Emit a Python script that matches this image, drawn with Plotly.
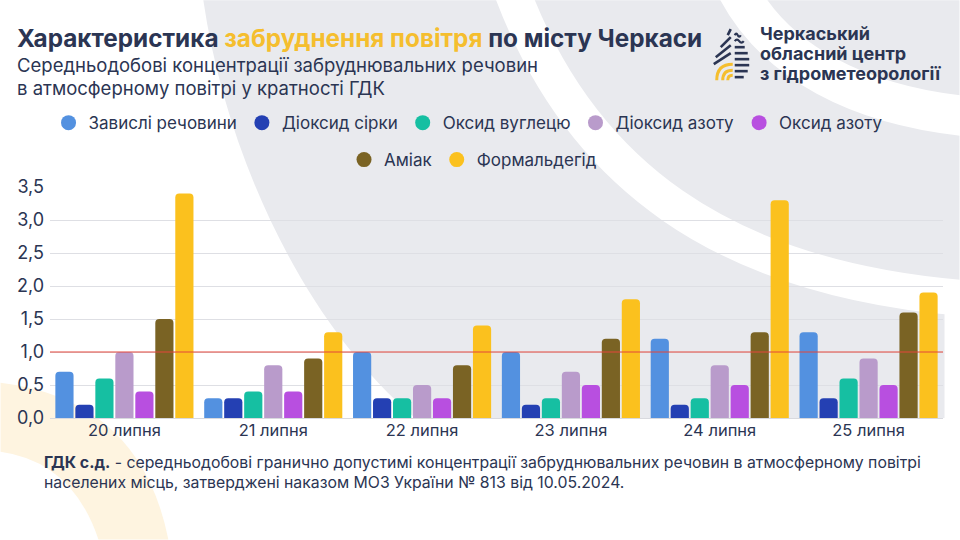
import plotly.graph_objects as go

# ---------------- data ----------------
dates = ["20 липня", "21 липня", "22 липня", "23 липня", "24 липня", "25 липня"]
series_names = ["Завислі речовини", "Діоксид сірки", "Оксид вуглецю", "Діоксид азоту",
                "Оксид азоту", "Аміак", "Формальдегід"]
suspended = [0.7, 0.3, 1.0, 1.0, 1.2, 1.3]
so2 = [0.2, 0.3, 0.3, 0.2, 0.2, 0.3]
co = [0.6, 0.4, 0.3, 0.3, 0.3, 0.6]
no2 = [1.0, 0.8, 0.5, 0.7, 0.8, 0.9]
no = [0.4, 0.4, 0.3, 0.5, 0.5, 0.5]
ammonia = [1.5, 0.9, 0.8, 1.2, 1.3, 1.6]
formaldehyde = [3.4, 1.3, 1.4, 1.8, 3.3, 1.9]
series_values = [suspended, so2, co, no2, no, ammonia, formaldehyde]
y_tick_vals = [0, 0.5, 1.0, 1.5, 2.0, 2.5, 3.0, 3.5]
y_tick_text = ["0,0", "0,5", "1,0", "1,5", "2,0", "2,5", "3,0", "3,5"]
gdk_level = 1.0

# ---------------- style ----------------
colors = ["#5391E0", "#2440B3", "#16BFA2", "#B99BCB", "#B84FE0", "#7A6324", "#FBC11E"]
NAVY = "#2B3553"
YELLOW = "#F5BE2E"
FONT = "Inter"
W, H = 960, 540
ML, MR, MT, MB = 49.5, 16.5, 187, 121.7
PW = W - ML - MR
PH = H - MT - MB


def px(x):
    return (x - ML) / PW


def py(y):
    return (H - MB - y) / PH


def path(cmds):
    out = []
    for c in cmds:
        if isinstance(c, str):
            out.append(c)
        else:
            out.append(f"{px(c[0]):.5f},{py(c[1]):.5f}")
    return " ".join(out)


fig = go.Figure()

for name, vals, col in zip(series_names, series_values, colors):
    fig.add_trace(go.Bar(x=dates, y=vals, name=name, marker=dict(color=col, line=dict(width=0)),
                         showlegend=False, hoverinfo="y+name"))

for i, (name, col) in enumerate(zip(series_names, colors)):
    fig.add_trace(go.Scatter(x=[None], y=[None], mode="markers", name=name,
                             marker=dict(color=col, size=15, symbol="circle"),
                             legend="legend" if i < 5 else "legend2"))

shapes = []
# grey background area
shapes.append(dict(type="path", xref="paper", yref="paper", layer="below",
                   path=path(["M", (203, 0), "C", (225, 150), (300, 320), (415, 418.3),
                              "L", (945, 418.3), "L", (945, 300), "L", (960, 300), "L", (960, 0), "Z"]),
                   fillcolor="#E9EAEE", line=dict(width=0)))
# white arc bands
shapes.append(dict(type="path", xref="paper", yref="paper", layer="below",
                   path=path(["M", (508, -20), "C", (575, 170), (720, 285), (990, 300)]),
                   line=dict(color="white", width=36)))
shapes.append(dict(type="path", xref="paper", yref="paper", layer="below",
                   path=path(["M", (733, -20), "C", (770, 60), (860, 110), (990, 118)]),
                   line=dict(color="white", width=40)))
# cream arc bottom-left
shapes.append(dict(type="path", xref="paper", yref="paper", layer="below",
                   path=path(["M", (0, 383), "Q", (140, 400), (168, 540), "L", (98, 540),
                              "Q", (72, 462), (0, 452), "Z"]),
                   fillcolor="#FEF4E0", line=dict(width=0)))

# logo (drop emblem): right half horizontal stripes following the drop outline
half_width = {47: 12, 53: 15, 59: 16.5, 65: 16.5, 71: 15, 77: 11}
for yy, hw in half_width.items():
    shapes.append(dict(type="line", xref="paper", yref="paper", x0=px(735), x1=px(733 + hw),
                       y0=py(yy), y1=py(yy), line=dict(color=NAVY, width=2.6)))
# wavy lines top right
for yy, hw in [(35, 6), (41, 9)]:
    shapes.append(dict(type="path", xref="paper", yref="paper",
                       path=path(["M", (735, yy), "Q", (735 + hw / 4, yy - 3), (735 + hw / 2, yy),
                                  "Q", (735 + 3 * hw / 4, yy + 3), (735 + hw, yy)]),
                       line=dict(color=NAVY, width=2.2)))
# left upper diagonal stripes
for (x0, y0, x1, y1) in [(728, 35, 731, 29), (721, 47, 731, 37), (716, 57, 731, 45), (714, 64, 731, 53)]:
    shapes.append(dict(type="line", xref="paper", yref="paper", x0=px(x0), y0=py(y0), x1=px(x1), y1=py(y1),
                       line=dict(color=NAVY, width=2.6)))
# yellow arcs bottom-left
for r in [5, 10, 16]:
    shapes.append(dict(type="path", xref="paper", yref="paper",
                       path=path(["M", (733 - r, 80), "Q", (733 - r, 80 - r), (733, 80 - r)]),
                       line=dict(color=YELLOW, width=3)))

# GDK threshold line
shapes.append(dict(type="line", xref="paper", yref="y", x0=0, x1=1, y0=gdk_level, y1=gdk_level,
                   line=dict(color="#E4473B", width=1.2), layer="above"))

annotations = []


def add_text(text, x, y, size, color=NAVY, xanchor="left"):
    annotations.append(dict(text=text, x=px(x), y=py(y), xref="paper", yref="paper",
                            xanchor=xanchor, yanchor="middle", showarrow=False,
                            font=dict(family=FONT, size=size, color=color), align="left"))


add_text(f"<b>Характеристика <span style='color:{YELLOW}'>забруднення повітря</span> по місту Черкаси</b>",
         14, 38, 24.3)
add_text("Середньодобові концентрації забруднювальних речовин", 14, 65, 18.5)
add_text("в атмосферному повітрі у кратності ГДК", 14, 88, 18.5)
add_text("<b>Черкаський</b>", 758, 33, 18)
add_text("<b>обласний центр</b>", 758, 53, 18)
add_text("<b>з гідрометеорології</b>", 758, 73, 18)
add_text("<b>ГДК с.д.</b> - середньодобові гранично допустимі концентрації забруднювальних речовин в атмосферному повітрі",
         41, 463, 15.8)
add_text("населених місць, затверджені наказом МОЗ України № 813 від 10.05.2024.", 41, 483, 15.8)

fig.update_layout(
    width=W, height=H,
    margin=dict(l=ML, r=MR, t=MT, b=MB, pad=0),
    paper_bgcolor="white", plot_bgcolor="rgba(0,0,0,0)",
    font=dict(family=FONT, size=16, color=NAVY),
    barmode="group", bargap=0.06, bargroupgap=0.09, barcornerradius=4,
    shapes=shapes, annotations=annotations,
    legend=dict(orientation="h", x=px(468), y=py(123), xanchor="center", yanchor="middle",
                font=dict(family=FONT, size=17, color=NAVY), bgcolor="rgba(0,0,0,0)"),
    legend2=dict(orientation="h", x=px(473), y=py(160), xanchor="center", yanchor="middle",
                 font=dict(family=FONT, size=17, color=NAVY), bgcolor="rgba(0,0,0,0)"),
    xaxis=dict(showgrid=False, showline=False, ticks="", tickfont=dict(size=16.5, color=NAVY)),
    yaxis=dict(range=[0, 3.5], tickvals=y_tick_vals, ticktext=y_tick_text, showgrid=True,
               gridcolor="#DEDFE4", gridwidth=1, zeroline=True, zerolinecolor="#D8D9DE",
               zerolinewidth=1, showline=False, ticks="", ticklabelstandoff=5,
               tickfont=dict(size=18, color=NAVY)),
)

fig.write_html("out.html")
